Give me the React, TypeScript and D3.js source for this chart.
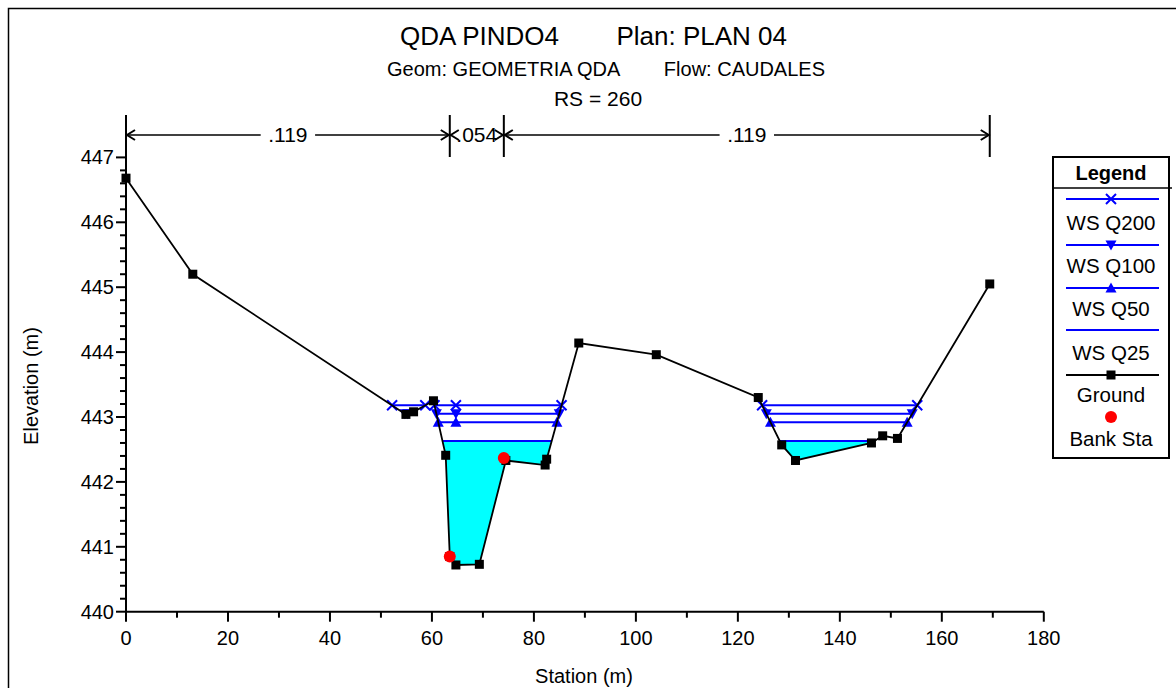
import React from 'react';
import * as d3 from 'd3';

// ---------- data ----------
const groundStation = [0, 13.1, 54.9, 56.4, 60.3, 62.7, 63.5, 64.7, 69.3, 74.5, 82.2, 82.5, 88.8, 104.0, 124.0, 128.6, 131.3, 146.2, 148.4, 151.3, 169.4];
const groundElev = [446.68, 445.2, 443.04, 443.08, 443.25, 442.41, 440.85, 440.72, 440.73, 442.33, 442.26, 442.35, 444.14, 443.96, 443.3, 442.57, 442.33, 442.6, 442.71, 442.67, 445.05];
const bankStation = [63.5, 74.1];
const bankElev = [440.85, 442.37];
const profileNames = ['WS Q200', 'WS Q100', 'WS Q50', 'WS Q25'];
const profileElev = [443.18, 443.05, 442.92, 442.63];
const profileMarker = ['x', 'down', 'up', 'none'];
const markerStations = [64.7];
const nValueLabels = ['.119', '.054', '.119'];
const nValueStations = [0, 63.5, 74.1, 169.4];
const xTicks = [0, 20, 40, 60, 80, 100, 120, 140, 160, 180];
const yTicks = [440, 441, 442, 443, 444, 445, 446, 447];
const titleLeft = 'QDA PINDO4';
const titleRight = 'Plan: PLAN 04';
const subLeft = 'Geom: GEOMETRIA QDA';
const subRight = 'Flow: CAUDALES';
const rsLabel = 'RS = 260';

const FONT = 'Arial, "Liberation Sans", sans-serif';
const BLUE = '#0000ff';

const x = d3.scaleLinear().domain([0, 180]).range([126, 1043.8]);
const y = d3.scaleLinear().domain([440, 447]).range([611.7, 157.4]);

type Pt = [number, number];
function wetIntervals(w: number) {
  const res: { a: number; b: number; pts: Pt[] }[] = [];
  let pts: Pt[] = [];
  let a = 0;
  for (let i = 0; i < groundStation.length - 1; i++) {
    const s0 = groundStation[i], e0 = groundElev[i], s1 = groundStation[i + 1], e1 = groundElev[i + 1];
    const b0 = e0 < w, b1 = e1 < w;
    const cross = () => s0 + ((w - e0) / (e1 - e0)) * (s1 - s0);
    if (!b0 && b1) {
      a = cross();
      pts = [[a, w], [s1, e1]];
    } else if (b0 && b1) {
      pts.push([s1, e1]);
    } else if (b0 && !b1) {
      const b = cross();
      pts.push([b, w]);
      res.push({ a, b, pts });
    }
  }
  return res;
}

function Marker({ kind, cx, cy }: { kind: string; cx: number; cy: number }) {
  if (kind === 'x') {
    return (
      <path d={`M${cx - 5},${cy - 5}L${cx + 5},${cy + 5}M${cx - 5},${cy + 5}L${cx + 5},${cy - 5}`} stroke={BLUE} strokeWidth={2} />
    );
  }
  if (kind === 'down') {
    return <path d={`M${cx - 5.5},${cy - 4.5}L${cx + 5.5},${cy - 4.5}L${cx},${cy + 5.5}Z`} fill={BLUE} />;
  }
  if (kind === 'up') {
    return <path d={`M${cx - 5.5},${cy + 4.5}L${cx + 5.5},${cy + 4.5}L${cx},${cy - 5.5}Z`} fill={BLUE} />;
  }
  return null;
}

export default function App() {
  const line = d3.line<Pt>().x((d) => x(d[0])).y((d) => y(d[1]));
  const groundPts: Pt[] = groundStation.map((s, i) => [s, groundElev[i]]);

  const xMinor = d3.range(0, 181, 10);
  const yMinor = d3.range(440, 447.01, 0.2);

  const nTop = 115, nBot = 157, nY = 135;

  // legend layout
  const lgX = 1053, lgW = 116, lgY = 157, lgH = 301;
  const lgCx = lgX + lgW / 2;
  const lgLineX0 = 1066, lgLineX1 = 1159;
  const legendItems = [
    { kind: 'ws', marker: 'x', label: profileNames[0], ly: 199, ty: 230 },
    { kind: 'ws', marker: 'down', label: profileNames[1], ly: 245, ty: 273 },
    { kind: 'ws', marker: 'up', label: profileNames[2], ly: 288, ty: 316 },
    { kind: 'ws', marker: 'none', label: profileNames[3], ly: 330, ty: 360 },
    { kind: 'ground', marker: 'none', label: 'Ground', ly: 375, ty: 402 },
    { kind: 'bank', marker: 'none', label: 'Bank Sta', ly: 417, ty: 446 },
  ];

  return (
    <svg width={1176} height={688} style={{ position: 'absolute', left: 0, top: 0, background: '#fff' }} fontFamily={FONT}>
      <rect x={0} y={0} width={1176} height={688} fill="#fff" />
      <rect x={8.5} y={8.5} width={1200} height={700} fill="none" stroke="#000" strokeWidth={1.5} />

      {/* titles */}
      <text x={400} y={45} fontSize={26} fill="#000">{titleLeft}</text>
      <text x={787} y={45} fontSize={26} fill="#000" textAnchor="end">{titleRight}</text>
      <text x={387} y={76} fontSize={20} fill="#000">{subLeft}</text>
      <text x={825} y={76} fontSize={20} fill="#000" textAnchor="end">{subRight}</text>
      <text x={598} y={106} fontSize={21} fill="#000" textAnchor="middle">{rsLabel}</text>

      {/* Manning's n */}
      {nValueStations.map((s, i) => (
        <line key={'nv' + i} x1={x(s)} x2={x(s)} y1={nTop} y2={nBot} stroke="#000" strokeWidth={2} />
      ))}
      {nValueLabels.map((lab, i) => {
        const x0 = x(nValueStations[i]);
        const x1 = x(nValueStations[i + 1]);
        const cx = (x0 + x1) / 2;
        const halfW = lab.length * 5.8 + 4;
        const la = Math.max(x0, cx - halfW);
        const lb = Math.min(x1, cx + halfW);
        return (
          <g key={'nl' + i}>
            {la > x0 + 1 && <line x1={x0} x2={la} y1={nY} y2={nY} stroke="#000" strokeWidth={1.5} />}
            {lb < x1 - 1 && <line x1={lb} x2={x1} y1={nY} y2={nY} stroke="#000" strokeWidth={1.5} />}
            <path d={`M${x0 + 9},${nY - 5}L${x0 + 1},${nY}L${x0 + 9},${nY + 5}`} fill="none" stroke="#000" strokeWidth={2} />
            <path d={`M${x1 - 9},${nY - 5}L${x1 - 1},${nY}L${x1 - 9},${nY + 5}`} fill="none" stroke="#000" strokeWidth={2} />
            <text x={cx} y={nY + 7} fontSize={21} textAnchor="middle" fill="#000">{lab}</text>
          </g>
        );
      })}

      {/* axes */}
      <line x1={x(0)} x2={x(0)} y1={y(440)} y2={130} stroke="#000" strokeWidth={2} />
      <line x1={x(0)} x2={x(180)} y1={y(440)} y2={y(440)} stroke="#000" strokeWidth={2} />
      {xMinor.map((v) => (
        <line key={'xm' + v} x1={x(v)} x2={x(v)} y1={y(440)} y2={y(440) + (v % 20 === 0 ? 10 : 6)} stroke="#000" strokeWidth={2} />
      ))}
      {yMinor.map((v, i) => (
        <line key={'ym' + i} x1={x(0) - (i % 5 === 0 ? 10 : 6)} x2={x(0)} y1={y(v)} y2={y(v)} stroke="#000" strokeWidth={2} />
      ))}
      {xTicks.map((v) => (
        <text key={'xt' + v} x={x(v)} y={645} fontSize={20} textAnchor="middle" fill="#000">{v}</text>
      ))}
      {yTicks.map((v) => (
        <text key={'yt' + v} x={114} y={y(v) + 7} fontSize={20} textAnchor="end" fill="#000">{v}</text>
      ))}
      <text x={584} y={683} fontSize={20} textAnchor="middle" fill="#000">Station (m)</text>
      <text transform="translate(38,386) rotate(-90)" fontSize={20} textAnchor="middle" fill="#000">Elevation (m)</text>

      {/* lowest profile fill */}
      {wetIntervals(profileElev[3]).map((iv, i) => (
        <path key={'fill' + i} d={line(iv.pts) + 'Z'} fill="#00ffff" stroke="none" />
      ))}

      {/* water surfaces */}
      {profileElev.map((w, pi) =>
        wetIntervals(w).map((iv, i) => {
          const ms = [iv.a, iv.b, ...markerStations.filter((s) => s > iv.a + 2 && s < iv.b - 2)];
          return (
            <g key={'ws' + pi + '_' + i}>
              <line x1={x(iv.a)} x2={x(iv.b)} y1={y(w)} y2={y(w)} stroke={BLUE} strokeWidth={2} />
              {ms.map((s, k) => (
                <Marker key={k} kind={profileMarker[pi]} cx={x(s)} cy={y(w)} />
              ))}
            </g>
          );
        })
      )}

      {/* ground */}
      <path d={line(groundPts) || ''} fill="none" stroke="#000" strokeWidth={1.8} />
      {groundPts.map((p, i) => (
        <rect key={'g' + i} x={x(p[0]) - 4.5} y={y(p[1]) - 4.5} width={9} height={9} fill="#000" />
      ))}
      {bankStation.map((s, i) => (
        <circle key={'b' + i} cx={x(s)} cy={y(bankElev[i])} r={6} fill="#ff0000" />
      ))}

      {/* legend */}
      <rect x={lgX} y={lgY} width={lgW} height={lgH} fill="#fff" stroke="#000" strokeWidth={2} />
      <text x={lgCx} y={180} fontSize={20} fontWeight="bold" textAnchor="middle" fill="#000">Legend</text>
      <line x1={lgX} x2={lgX + lgW + 3} y1={188} y2={188} stroke="#000" strokeWidth={1.5} />
      {legendItems.map((it, i) => (
        <g key={'lg' + i}>
          {it.kind === 'ws' && (
            <>
              <line x1={lgLineX0} x2={lgLineX1} y1={it.ly} y2={it.ly} stroke={BLUE} strokeWidth={2} />
              <Marker kind={it.marker} cx={lgCx} cy={it.ly} />
            </>
          )}
          {it.kind === 'ground' && (
            <>
              <line x1={lgLineX0} x2={lgLineX1} y1={it.ly} y2={it.ly} stroke="#000" strokeWidth={2} />
              <rect x={lgCx - 4.5} y={it.ly - 4.5} width={9} height={9} fill="#000" />
            </>
          )}
          {it.kind === 'bank' && <circle cx={lgCx} cy={it.ly} r={6} fill="#ff0000" />}
          <text x={lgCx} y={it.ty} fontSize={20.5} textAnchor="middle" fill="#000">{it.label}</text>
        </g>
      ))}
    </svg>
  );
}
